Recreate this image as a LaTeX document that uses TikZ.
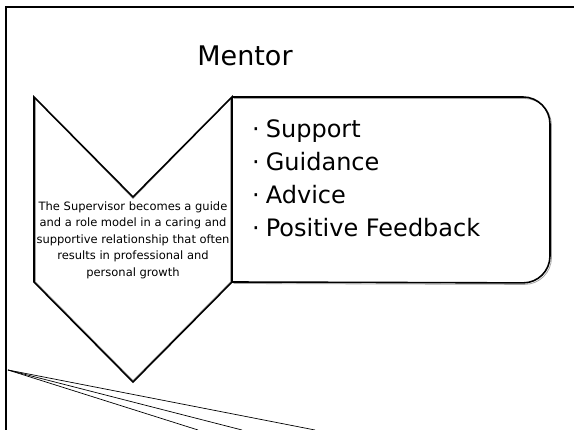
\documentclass[tikz,border=0pt]{standalone}
\usepackage{fontspec}
\setmainfont{DejaVu Sans}
\usetikzlibrary{calc}

\tikzset{
    shapeline/.style={draw=black,line width=1.6pt,line join=miter},
    shadowline/.style={draw=gray!70,line width=0.8pt},
    bullet/.style={anchor=base west,inner sep=0pt,font=\fontsize{24}{29}\selectfont}
}

\begin{document}
\begin{tikzpicture}[x=1pt,y=-1pt]
        \useasboundingbox (0,0) rectangle (574,430);

        \coordinate (A) at (34,97);
        \coordinate (B) at (133,197);
        \coordinate (C) at (232,97);
        \coordinate (D) at (232,282);
        \coordinate (E) at (133,382);
        \coordinate (F) at (34,282);
        \coordinate (G) at (550,97);
        \coordinate (H) at (550,283);
        \coordinate (K) at (8,370);
        \coordinate (K1) at (198,430);
        \coordinate (K2) at (242,430);
        \coordinate (K3) at (315,430);

        \draw[line width=2.2pt] (6,430) -- (6,7) -- (574,7);

        \draw[shadowline,rounded corners=27pt] ($(C)+(1.5,1.5)$) -- ($(G)+(1.5,1.5)$) -- ($(H)+(1.5,1.5)$) -- ($(D)+(1.5,1.5)$);
        \draw[shapeline,rounded corners=27pt] (C) -- (G) -- (H) -- (D);
        \draw[shadowline] ($(A)+(1.5,1.5)$) -- ($(B)+(0,1.5)$) -- ($(C)+(-1.5,1.5)$) -- ($(D)+(-1.5,0)$) -- ($(E)+(0,-1.5)$) -- ($(F)+(1.5,0)$) -- cycle;
        \draw[shapeline] (A) -- (B) -- (C) -- (D) -- (E) -- (F) -- cycle;

        \node[anchor=base,inner sep=0pt,font=\fontsize{27}{32}\selectfont] (title) at (245,66) {Mentor};

        \node[align=center,inner sep=0pt,font=\fontsize{11.5}{16.5}\selectfont] (desc) at (133,240)
            {The Supervisor becomes a guide\\and a role model in a caring and\\supportive relationship that often\\results in professional and\\personal growth};

        \node[bullet] (b1) at (252,138) {·\hspace{6pt}Support};
        \node[bullet] (b2) at (252,171) {·\hspace{6pt}Guidance};
        \node[bullet] (b3) at (252,204) {·\hspace{6pt}Advice};
        \node[bullet] (b4) at (252,237) {·\hspace{6pt}Positive Feedback};

        \draw[line width=0.7pt] (K) -- (K1);
        \draw[line width=0.7pt] (K) -- (K2);
        \draw[line width=0.7pt] (K) -- (K3);

    \end{tikzpicture}
\end{document}
